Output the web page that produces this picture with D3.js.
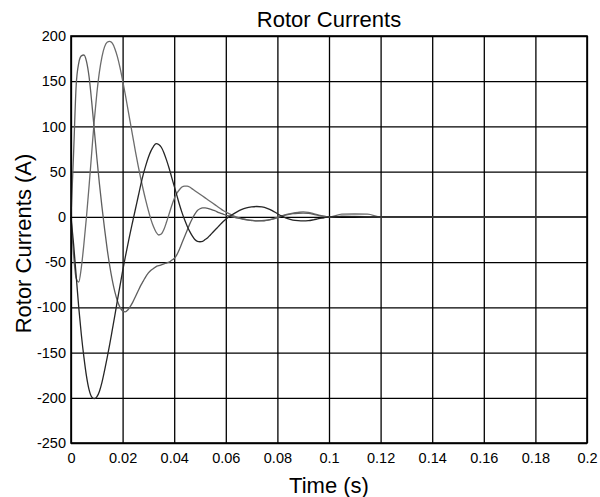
<!DOCTYPE html>
<html>
<head>
<meta charset="utf-8">
<script src="https://cdn.jsdelivr.net/npm/d3@7"></script>
<style>
  body { margin: 0; background: #fff; }
  svg { display: block; }
  text { font-family: "Liberation Sans", Arial, Helvetica, sans-serif; fill: #000; }
</style>
</head>
<body>
<svg id="chart" width="600" height="497"></svg>
<script>
// Sample instants (s)
const timeS = [
  0.000, 0.001, 0.002, 0.003, 0.004, 0.005, 0.006, 0.007, 0.008, 0.009,
  0.010, 0.011, 0.012, 0.013, 0.014, 0.015, 0.016, 0.017, 0.018, 0.019,
  0.020, 0.021, 0.022, 0.023, 0.024, 0.025, 0.026, 0.027, 0.028, 0.029,
  0.030, 0.031, 0.032, 0.033, 0.034, 0.035, 0.036, 0.037, 0.038, 0.039,
  0.040, 0.041, 0.042, 0.043, 0.044, 0.045, 0.046, 0.047, 0.048, 0.049,
  0.050, 0.051, 0.052, 0.053, 0.054, 0.055, 0.056, 0.057, 0.058, 0.059,
  0.060,
  0.062, 0.064, 0.066, 0.068, 0.070, 0.072, 0.074, 0.076, 0.078, 0.080,
  0.082, 0.084, 0.086, 0.088, 0.090, 0.092, 0.094, 0.096, 0.098, 0.100,
  0.105, 0.110, 0.115, 0.120, 0.140, 0.160, 0.180, 0.200
];

// Rotor phase currents (A)
const phaseA = [
  0, -30, -65, -100, -130, -155, -176, -191, -199, -201,
  -199, -193, -183, -170, -156, -141, -125, -109, -92, -76,
  -60, -45, -31, -17, -4, 9, 22, 35, 47, 57,
  66, 73, 78, 81, 80, 77, 71, 63, 54, 44,
  34, 24, 14, 5, -3, -10, -16, -21, -25, -27,
  -27.5, -27, -25, -23, -20, -17, -14, -11, -8, -5,
  -2.5,
  1.5, 5, 8, 10, 11, 11.5, 11, 9.5, 7, 3.5,
  0.5, -2, -3.5, -4.2, -4.5, -4.2, -3.2, -2, -1, 0,
  0.5, 0.3, 0, 0, 0, 0, 0, 0
];

const phaseB = [
  0, 70, 145, 170, 178, 179, 172, 155, 128, 97,
  66, 37, 11, -13, -35, -54, -70, -83, -93, -100,
  -104, -105, -103, -99, -94, -88, -82, -76, -71, -66,
  -62, -59, -57, -55, -54, -53, -52, -51, -50, -48,
  -46, -42, -36, -29, -22, -15, -8, -2, 3, 7,
  9, 10, 10, 9.5, 8.5, 7.5, 6.5, 5, 4, 3,
  2,
  0.5, -1, -2, -3, -3.8, -4.3, -4.2, -3.6, -2.5, -0.8,
  1, 2.5, 3.5, 4, 4.2, 3.8, 2.8, 1.5, 0.5, 0,
  0.5, 0.5, 0.3, 0, 0, 0, 0, 0
];

const phaseC = [
  0, -42, -68, -72, -56, -30, 0, 34, 70, 106,
  136, 160, 177, 188, 193, 194, 192, 186, 177, 165,
  151, 136, 120, 104, 88, 72, 57, 43, 30, 18,
  7, -3, -11, -17, -20, -19, -14, -6, 3, 12,
  20, 26, 30, 33, 34, 34, 33, 31, 29, 27,
  25, 23, 21, 19, 17, 15, 13, 11, 9, 7,
  5.5,
  2.5, 0, -2, -3.3, -4, -4.5, -4.5, -3.8, -2.5, -0.5,
  1.5, 3, 4.2, 5, 5.5, 5, 3.5, 2, 0.8, 0,
  3, 3.2, 3, 0, 0, 0, 0, 0
];

const xTicks = [0, 0.02, 0.04, 0.06, 0.08, 0.1, 0.12, 0.14, 0.16, 0.18, 0.2];
const xTickLabels = ["0", "0.02", "0.04", "0.06", "0.08", "0.1", "0.12", "0.14", "0.16", "0.18", "0.2"];
const yTicks = [-250, -200, -150, -100, -50, 0, 50, 100, 150, 200];

const seriesList = [
  { values: phaseC, color: "#6c6c6c" },
  { values: phaseB, color: "#5e5e5e" },
  { values: phaseA, color: "#262626" }
];

const svg = d3.select("#chart");
const box = { left: 71, right: 587, top: 36, bottom: 443 };
const W = box.right - box.left, H = box.bottom - box.top;

const x = d3.scaleLinear().domain([0, 0.2]).range([box.left, box.right]);
const y = d3.scaleLinear().domain([-250, 200]).range([box.bottom, box.top]);

svg.append("rect").attr("x", 0).attr("y", 0).attr("width", 600).attr("height", 497).attr("fill", "#fff");

// grid + tick labels
const xAxis = svg.append("g")
  .attr("transform", `translate(0,${box.bottom})`)
  .call(d3.axisBottom(x).tickValues(xTicks).tickSize(-H).tickPadding(10)
    .tickFormat((d, i) => xTickLabels[i]));
const yAxis = svg.append("g")
  .attr("transform", `translate(${box.left},0)`)
  .call(d3.axisLeft(y).tickValues(yTicks).tickSize(-W).tickPadding(5)
    .tickFormat(d => String(d)));

[xAxis, yAxis].forEach(g => {
  g.select(".domain").remove();
  g.selectAll(".tick line").attr("stroke", "#000").attr("stroke-width", 1.3);
  g.selectAll(".tick text").attr("font-size", 14.5).attr("fill", "#000")
    .style("font-family", '"Liberation Sans", Arial, sans-serif');
});

// current traces
const line = d3.line()
  .x((d, i) => x(timeS[i]))
  .y(d => y(d))
  .curve(d3.curveMonotoneX);

svg.append("g").selectAll("path")
  .data(seriesList)
  .join("path")
  .attr("d", s => line(s.values))
  .attr("fill", "none")
  .attr("stroke", s => s.color)
  .attr("stroke-width", 1.3)
  .attr("stroke-linejoin", "round");

// frame
svg.append("rect")
  .attr("x", box.left).attr("y", box.top)
  .attr("width", W).attr("height", H)
  .attr("fill", "none").attr("stroke", "#000").attr("stroke-width", 1.6);

// titles
svg.append("text")
  .attr("x", (box.left + box.right) / 2).attr("y", 27)
  .attr("text-anchor", "middle").attr("font-size", 22)
  .text("Rotor Currents");

svg.append("text")
  .attr("x", (box.left + box.right) / 2).attr("y", 493)
  .attr("text-anchor", "middle").attr("font-size", 22)
  .text("Time (s)");

svg.append("text")
  .attr("transform", `translate(31,${(box.top + box.bottom) / 2 + 4}) rotate(-90)`)
  .attr("text-anchor", "middle").attr("font-size", 22)
  .text("Rotor Currents (A)");
</script>
</body>
</html>
